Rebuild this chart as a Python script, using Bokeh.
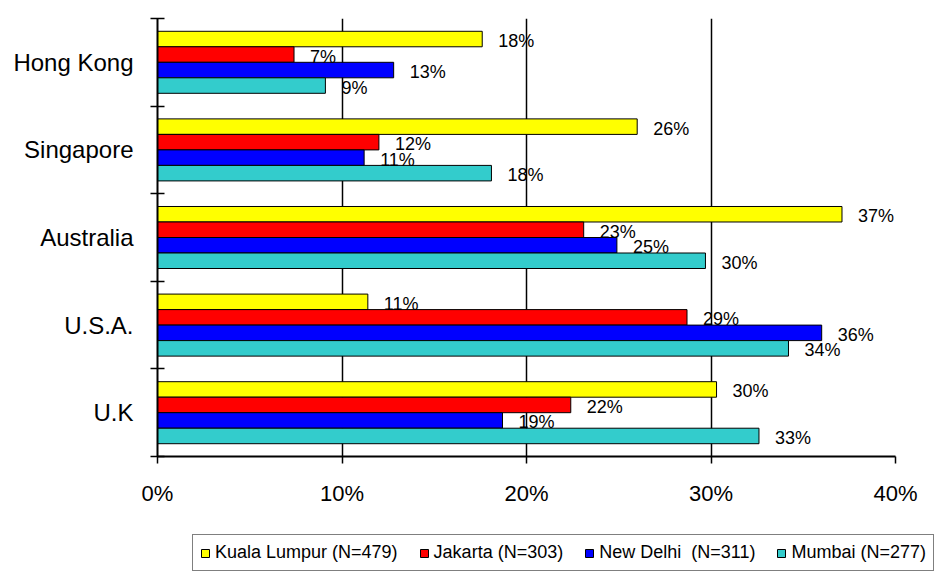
from bokeh.plotting import figure
from bokeh.layouts import column
from bokeh.models import (ColumnDataSource, FixedTicker, Legend, LegendItem,
                          LabelSet, Range1d)
from bokeh.core.properties import value
from bokeh.embed import file_html
from bokeh.resources import INLINE

# ---- data (categories listed bottom to top) ----
categories = ["U.K", "U.S.A.", "Australia", "Singapore", "Hong Kong"]
series_names = ["Kuala Lumpur (N=479)", "Jakarta (N=303)",
                "New Delhi  (N=311)", "Mumbai (N=277)"]
kuala_lumpur = [30.3, 11.4, 37.1, 26.0, 17.6]
jakarta = [22.4, 28.7, 23.1, 12.0, 7.4]
new_delhi = [18.7, 36.0, 24.9, 11.2, 12.8]
mumbai = [32.6, 34.2, 29.7, 18.1, 9.1]
colors = ["#FFFF00", "#FF0000", "#0000FF", "#33CCCC"]
x_ticks = [0, 10, 20, 30, 40]
x_tick_labels = ["0%", "10%", "20%", "30%", "40%"]

series_values = [kuala_lumpur, jakarta, new_delhi, mumbai]
bar_h = 0.177
offsets = [1.5 * bar_h, 0.5 * bar_h, -0.5 * bar_h, -1.5 * bar_h]

FONT = "Liberation Sans"

p = figure(width=936, height=530,
           x_range=Range1d(0, 40), y_range=Range1d(-0.5, 4.5),
           output_backend="svg", toolbar_location=None,
           min_border_left=157, min_border_right=41,
           min_border_top=18, min_border_bottom=74)
p.frame_align = False
p.outline_line_color = None
p.background_fill_color = "white"
p.border_fill_color = "white"

# grid
p.ygrid.grid_line_color = None
p.xgrid.ticker = FixedTicker(ticks=x_ticks[1:])
p.xgrid.grid_line_color = "black"
p.xgrid.grid_line_width = 1.5

# x axis
xa = p.xaxis[0]
xa.ticker = FixedTicker(ticks=x_ticks)
xa.major_label_overrides = dict(zip(x_ticks, x_tick_labels))
xa.major_tick_out = 7
xa.major_tick_in = 0
xa.major_tick_line_width = 1.5
xa.major_tick_line_color = "black"
xa.axis_line_width = 2
xa.axis_line_color = "black"
xa.major_label_text_font = FONT
xa.major_label_text_font_size = "22px"
xa.major_label_text_color = "black"
xa.major_label_standoff = 17

# y axis
ya = p.yaxis[0]
ya.ticker = FixedTicker(ticks=list(range(len(categories))),
                        minor_ticks=[i - 0.5 for i in range(len(categories) + 1)])
ya.major_label_overrides = dict(zip(range(len(categories)), categories))
ya.major_tick_in = 0
ya.major_tick_out = 0
ya.minor_tick_in = 7
ya.minor_tick_out = 7
ya.minor_tick_line_color = "black"
ya.minor_tick_line_width = 1.5
ya.axis_line_width = 2
ya.axis_line_color = "black"
ya.major_label_text_font = FONT
ya.major_label_text_font_size = "24px"
ya.major_label_text_color = "black"
ya.major_label_standoff = 17

sources = []
for vals, off, col in zip(series_values, offsets, colors):
    ys = [i + off for i in range(len(categories))]
    src = ColumnDataSource(dict(y=ys, right=vals,
                                txt=[f"{round(v)}%" for v in vals]))
    sources.append(src)
    p.hbar(y="y", left=0, right="right", height=bar_h, source=src,
           fill_color=col, line_color="black", line_width=1)
    lbl = LabelSet(x="right", y="y", text="txt", source=src,
                   x_offset=16, y_offset=-2,
                   text_font=value(FONT), text_font_size=value("18px"),
                   text_baseline="middle", text_align="left",
                   text_color="black")
    p.add_layout(lbl)

# ---- legend strip (separate small figure under the chart) ----
# Same bar renderers, but the strip's ranges keep the bars out of view;
# only the legend is visible.
lg = figure(width=936, height=42, x_range=Range1d(-2, -1), y_range=Range1d(0, 1),
            output_backend="svg", toolbar_location=None,
            x_axis_location=None, y_axis_location=None,
            min_border_left=0, min_border_right=0,
            min_border_top=0, min_border_bottom=0)
lg.frame_align = False
lg.outline_line_color = None
lg.grid.grid_line_color = None
lg.background_fill_color = "white"
lg.border_fill_color = "white"

legend_renderers = []
for src, col in zip(sources, colors):
    legend_renderers.append(
        lg.hbar(y="y", left=0, right="right", height=bar_h, source=src,
                fill_color=col, line_color="black", line_width=1))

legend = Legend(items=[LegendItem(label=n, renderers=[r])
                       for n, r in zip(series_names, legend_renderers)],
                orientation="horizontal", location=(192, 1),
                glyph_width=10, glyph_height=10, label_standoff=5,
                spacing=21, padding=7, margin=0,
                label_text_font=FONT, label_text_font_size="18px",
                label_text_color="black",
                border_line_color="black", border_line_width=1,
                background_fill_color="white", background_fill_alpha=1)
lg.add_layout(legend)

layout = column(p, lg, spacing=0)
open("out.html", "w").write(file_html(layout, INLINE))
